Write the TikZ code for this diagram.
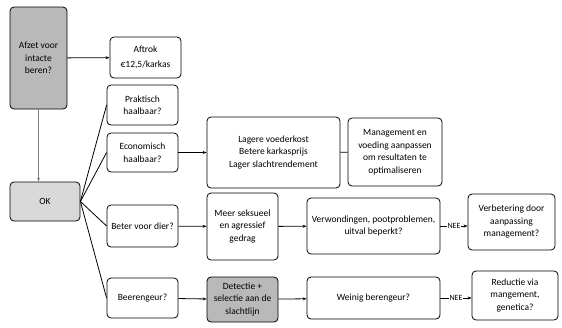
\documentclass[tikz,border=0pt]{standalone}
\usepackage{fontspec}
\setmainfont{Carlito}
\usetikzlibrary{arrows.meta}

\begin{document}
\begin{tikzpicture}[
        x=1pt, y=-1pt,
        every node/.style={font=\fontsize{9.5}{12.5}\selectfont, align=center},
        box/.style={draw, thick, rounded corners=4pt, inner sep=2pt},
        greybox/.style={box, fill=gray!55},
        arrow/.style={-{Stealth[length=4pt,width=3pt]}, thick},
        link/.style={thick},
        nee/.style={fill=white, inner sep=1pt, font=\fontsize{8}{9}\selectfont}
    ]

    \useasboundingbox (0,0) rectangle (562,327);

    % =====================================================
    % Left column
    % =====================================================
    \node[greybox, minimum width=57pt, minimum height=102pt] (afzet) at (38.5,58)
    {Afzet voor\\intacte\\beren?};
    \node[greybox, fill=gray!30, minimum width=70pt, minimum height=39pt] (ok) at (45,201.5) {OK};

    \node[box, minimum width=71pt, minimum height=41pt] (aftrok) at (145.5,57.5)
    {Aftrok\\[2pt]€12,5/karkas};

    % Questions
    \node[box, minimum width=71pt, minimum height=40pt] (prak) at (142.5,105)
    {Praktisch\\haalbaar?};
    \node[box, minimum width=71pt, minimum height=39pt] (econ) at (142.5,152.5)
    {Economisch\\haalbaar?};
    \node[box, minimum width=71pt, minimum height=42pt] (beter) at (142.5,226)
    {Beter voor dier?};
    \node[box, minimum width=71pt, minimum height=40pt] (beer) at (142.5,298)
    {Beerengeur?};

    % =====================================================
    % Right part
    % =====================================================
    \node[box, minimum width=133pt, minimum height=71pt] (lager) at (273.5,152.5)
    {Lagere voederkost\\Betere karkasprijs\\Lager slachtrendement};
    \node[box, minimum width=94pt, minimum height=68pt] (mgmt) at (395,152)
    {Management en\\voeding aanpassen\\om resultaten te\\optimaliseren};

    \node[box, minimum width=71pt, minimum height=67pt] (meer) at (242.5,226.5)
    {Meer seksueel\\en agressief\\gedrag};
    \node[box, minimum width=133pt, minimum height=56pt] (verw) at (373.5,226)
    {Verwondingen, pootproblemen,\\uitval beperkt?};
    \node[box, minimum width=87pt, minimum height=56pt] (verb) at (511.5,222)
    {Verbetering door\\aanpassing\\management?};

    \node[greybox, minimum width=71pt, minimum height=45pt] (detect) at (242.5,299.5)
    {Detectie +\\selectie aan de\\slachtlijn};
    \node[box, minimum width=133pt, minimum height=42pt] (weinig) at (373.5,298)
    {Weinig berengeur?};
    \node[box, minimum width=86pt, minimum height=49pt] (reduc) at (515,295.5)
    {Reductie via\\mangement,\\genetica?};

    % =====================================================
    % Connectors
    % =====================================================
    \draw[arrow] (afzet) -- (aftrok);
    \draw[arrow, gray] (afzet.south) -- (afzet.south |- ok.north);

    \foreach \q in {prak, econ, beter, beer}
        \draw[link] (ok.east) -- (\q.west);

    \draw[arrow] (econ) -- (lager);
    \draw[link] (lager) -- (mgmt);

    \draw[arrow] (beter) -- (meer);
    \draw[arrow] (meer) -- (verw);
    \draw[arrow] (verw.east) -- node[nee] {NEE} (verw.east -| verb.west);

    \draw[arrow] (beer) -- (detect);
    \draw[arrow] (detect) -- (weinig);
    \draw[arrow] (weinig.east) -- node[nee] {NEE} (weinig.east -| reduc.west);

\end{tikzpicture}
\end{document}
